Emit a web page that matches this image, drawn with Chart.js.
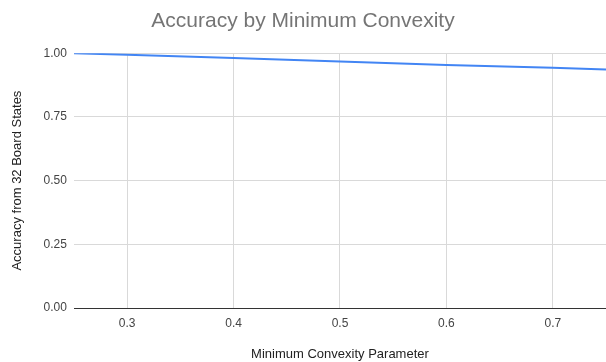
<!DOCTYPE html>
<html lang="en">
<head>
  <meta charset="UTF-8">
  <title>Accuracy by Minimum Convexity</title>
  <script src="https://cdn.jsdelivr.net/npm/chart.js"></script>
  <style>
    body { margin: 0; background: #fff; }
    #wrap { width: 606px; height: 362px; }
  </style>
</head>
<body>
  <div id="wrap"><canvas id="chart"></canvas></div>
  <script>
    // data
    const convexity = [0.25, 0.3, 0.4, 0.5, 0.6, 0.7, 0.75];
    const accuracy = [1.0, 0.994, 0.981, 0.967, 0.954, 0.943, 0.936];
    const xTicks = [0.3, 0.4, 0.5, 0.6, 0.7];
    const yTicks = [0, 0.25, 0.5, 0.75, 1.0];

    const font = "'Liberation Sans', Arial, sans-serif";

    new Chart(document.getElementById('chart').getContext('2d'), {
      type: 'line',
      data: {
        datasets: [{
          data: convexity.map((x, i) => ({ x: x, y: accuracy[i] })),
          borderColor: '#4285f4',
          borderWidth: 2,
          pointRadius: 0,
          tension: 0
        }]
      },
      options: {
        responsive: true,
        maintainAspectRatio: false,
        animation: false,
        layout: { padding: { left: 0, right: 0, top: 0, bottom: 0 } },
        plugins: {
          legend: { display: false },
          tooltip: { enabled: false },
          title: {
            display: true,
            text: 'Accuracy by Minimum Convexity',
            color: '#757575',
            font: { family: font, size: 21, weight: 'normal' },
            padding: { top: 9, bottom: 19 }
          }
        },
        scales: {
          x: {
            type: 'linear',
            min: 0.25,
            max: 0.75,
            afterBuildTicks: axis => { axis.ticks = xTicks.map(v => ({ value: v })); },
            border: { display: false },
            grid: { color: '#d9d9d9', drawTicks: false },
            ticks: {
              padding: 8,
              color: '#444',
              font: { family: font, size: 12 },
              callback: v => v.toFixed(1)
            },
            title: {
              display: true,
              text: 'Minimum Convexity Parameter',
              color: '#222',
              font: { family: font, size: 13 },
              padding: { top: 8, bottom: 0 }
            }
          },
          y: {
            min: 0,
            max: 1,
            afterBuildTicks: axis => { axis.ticks = yTicks.map(v => ({ value: v })); },
            border: { display: false },
            grid: {
              color: ctx => (ctx.tick && ctx.tick.value === 0) ? '#333' : '#d9d9d9',
              drawTicks: false
            },
            ticks: {
              padding: 7,
              color: '#444',
              font: { family: font, size: 12 },
              callback: v => v.toFixed(2)
            },
            title: {
              display: true,
              text: 'Accuracy from 32 Board States',
              color: '#222',
              font: { family: font, size: 13 },
              padding: { top: 10, bottom: 11 }
            }
          }
        }
      }
    });
  </script>
</body>
</html>
